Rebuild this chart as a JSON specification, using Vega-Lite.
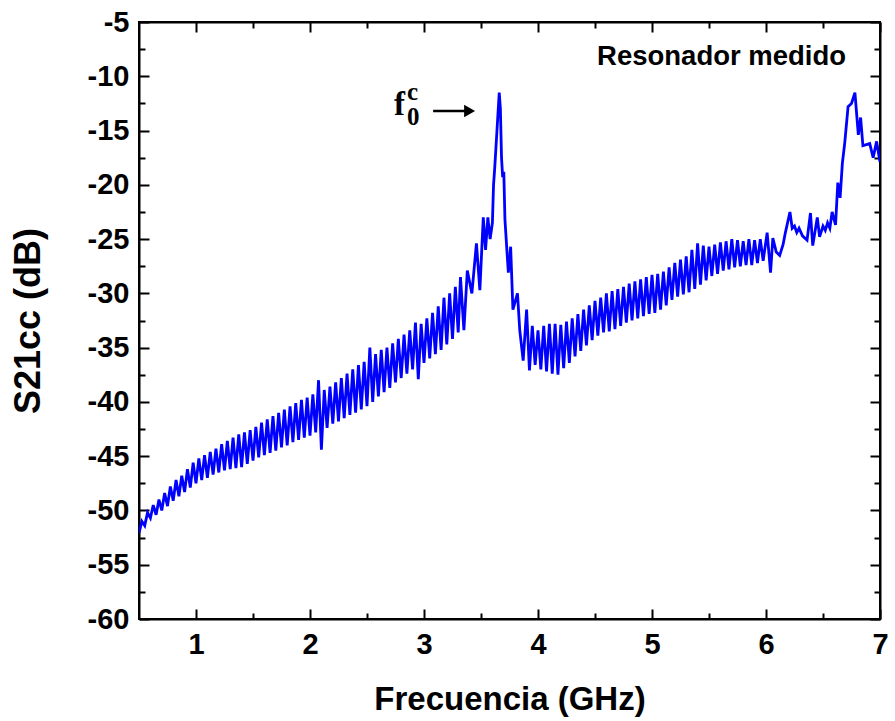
{
  "$schema": "https://vega.github.io/schema/vega-lite/v6.json",
  "autosize": {"type": "none"},
  "width": 741,
  "height": 597,
  "padding": {"left": 139, "top": 22, "right": 15, "bottom": 102},
  "background": "white",
  "config": {
    "view": {"stroke": "black", "strokeWidth": 2},
    "axis": {
      "grid": false,
      "domainColor": "black",
      "domainWidth": 2,
      "tickColor": "black",
      "tickWidth": 2,
      "labelFont": "Liberation Sans",
      "labelFontWeight": "bold",
      "labelFontSize": 29,
      "labelColor": "black",
      "titleFont": "Liberation Sans",
      "titleFontWeight": "bold",
      "titleFontSize": 33,
      "titleColor": "black",
      "labelOverlap": false,
      "labelFlush": false,
      "labelBound": false
    }
  },
  "datasets": {
    "spectrum": [
      {"f":0.500,"s":-52.1},{"f":0.525,"s":-51.0},{"f":0.550,"s":-51.4},{"f":0.575,"s":-50.2},{"f":0.600,"s":-50.7},
      {"f":0.625,"s":-49.5},{"f":0.650,"s":-50.4},{"f":0.675,"s":-49.0},{"f":0.700,"s":-50.0},{"f":0.725,"s":-48.4},
      {"f":0.750,"s":-49.6},{"f":0.775,"s":-47.8},{"f":0.800,"s":-49.1},{"f":0.825,"s":-47.2},{"f":0.850,"s":-48.7},
      {"f":0.875,"s":-46.8},{"f":0.900,"s":-48.3},{"f":0.925,"s":-46.2},{"f":0.950,"s":-47.9},{"f":0.975,"s":-45.6},
      {"f":1.000,"s":-47.5},{"f":1.025,"s":-45.2},{"f":1.050,"s":-47.2},{"f":1.075,"s":-44.9},{"f":1.100,"s":-47.0},
      {"f":1.125,"s":-44.6},{"f":1.150,"s":-46.7},{"f":1.175,"s":-44.3},{"f":1.200,"s":-46.5},{"f":1.225,"s":-43.9},
      {"f":1.250,"s":-46.3},{"f":1.275,"s":-43.6},{"f":1.300,"s":-46.2},{"f":1.325,"s":-43.3},{"f":1.350,"s":-46.1},
      {"f":1.375,"s":-43.0},{"f":1.400,"s":-46.0},{"f":1.425,"s":-42.8},{"f":1.450,"s":-45.7},{"f":1.475,"s":-42.6},
      {"f":1.500,"s":-45.4},{"f":1.525,"s":-42.3},{"f":1.550,"s":-45.1},{"f":1.575,"s":-41.9},{"f":1.600,"s":-44.9},
      {"f":1.625,"s":-41.6},{"f":1.650,"s":-44.7},{"f":1.675,"s":-41.3},{"f":1.700,"s":-44.5},{"f":1.725,"s":-41.0},
      {"f":1.750,"s":-44.2},{"f":1.775,"s":-40.7},{"f":1.800,"s":-44.0},{"f":1.825,"s":-40.4},{"f":1.850,"s":-43.7},
      {"f":1.875,"s":-40.1},{"f":1.900,"s":-43.5},{"f":1.925,"s":-39.8},{"f":1.950,"s":-43.3},{"f":1.975,"s":-39.6},
      {"f":2.000,"s":-43.1},{"f":2.025,"s":-39.3},{"f":2.050,"s":-42.8},{"f":2.075,"s":-38.0},{"f":2.100,"s":-44.4},
      {"f":2.125,"s":-38.9},{"f":2.150,"s":-42.4},{"f":2.175,"s":-38.6},{"f":2.200,"s":-42.0},{"f":2.225,"s":-38.2},
      {"f":2.250,"s":-41.8},{"f":2.275,"s":-37.8},{"f":2.300,"s":-41.5},{"f":2.325,"s":-37.4},{"f":2.350,"s":-41.2},
      {"f":2.375,"s":-37.0},{"f":2.400,"s":-41.0},{"f":2.425,"s":-36.6},{"f":2.450,"s":-40.7},{"f":2.475,"s":-36.3},
      {"f":2.500,"s":-40.4},{"f":2.525,"s":-35.0},{"f":2.550,"s":-40.0},{"f":2.575,"s":-35.6},{"f":2.600,"s":-39.5},
      {"f":2.625,"s":-35.2},{"f":2.650,"s":-39.1},{"f":2.675,"s":-35.0},{"f":2.700,"s":-38.7},{"f":2.725,"s":-34.6},
      {"f":2.750,"s":-38.2},{"f":2.775,"s":-34.2},{"f":2.800,"s":-37.8},{"f":2.825,"s":-33.8},{"f":2.850,"s":-37.4},
      {"f":2.875,"s":-33.4},{"f":2.900,"s":-37.0},{"f":2.925,"s":-32.7},{"f":2.950,"s":-37.9},{"f":2.975,"s":-32.8},
      {"f":3.000,"s":-36.4},{"f":3.025,"s":-32.3},{"f":3.050,"s":-36.0},{"f":3.075,"s":-31.8},{"f":3.100,"s":-35.6},
      {"f":3.125,"s":-31.2},{"f":3.150,"s":-35.2},{"f":3.175,"s":-30.4},{"f":3.200,"s":-34.7},{"f":3.225,"s":-30.0},
      {"f":3.250,"s":-34.2},{"f":3.275,"s":-29.4},{"f":3.300,"s":-33.6},{"f":3.320,"s":-28.5},{"f":3.350,"s":-33.4},
      {"f":3.38,"s":-27.9},{"f":3.42,"s":-30.0},{"f":3.46,"s":-25.4},{"f":3.49,"s":-29.7},{"f":3.52,"s":-23.0},
      {"f":3.54,"s":-26.0},{"f":3.56,"s":-23.0},{"f":3.58,"s":-25.0},{"f":3.60,"s":-23.5},{"f":3.61,"s":-20.0},
      {"f":3.62,"s":-18.5},{"f":3.64,"s":-15.0},{"f":3.66,"s":-11.5},{"f":3.67,"s":-13.0},{"f":3.68,"s":-17.5},
      {"f":3.69,"s":-19.3},{"f":3.70,"s":-18.8},{"f":3.71,"s":-23.2},{"f":3.73,"s":-26.5},{"f":3.74,"s":-28.1},
      {"f":3.76,"s":-25.7},{"f":3.78,"s":-31.5},{"f":3.82,"s":-30.0},{"f":3.84,"s":-33.4},{"f":3.87,"s":-36.2},
      {"f":3.900,"s":-31.5},{"f":3.925,"s":-37.1},{"f":3.950,"s":-33.0},{"f":3.975,"s":-36.6},{"f":4.000,"s":-33.4},
      {"f":4.025,"s":-37.0},{"f":4.050,"s":-33.0},{"f":4.075,"s":-37.2},{"f":4.100,"s":-32.8},{"f":4.125,"s":-37.4},
      {"f":4.150,"s":-32.8},{"f":4.175,"s":-37.5},{"f":4.200,"s":-32.9},{"f":4.225,"s":-36.9},{"f":4.250,"s":-32.6},
      {"f":4.275,"s":-36.4},{"f":4.300,"s":-32.3},{"f":4.325,"s":-35.8},{"f":4.350,"s":-31.9},{"f":4.375,"s":-35.3},
      {"f":4.400,"s":-31.5},{"f":4.425,"s":-34.8},{"f":4.450,"s":-31.1},{"f":4.475,"s":-34.3},{"f":4.500,"s":-30.7},
      {"f":4.525,"s":-33.9},{"f":4.550,"s":-30.4},{"f":4.575,"s":-33.6},{"f":4.600,"s":-30.0},{"f":4.625,"s":-33.5},
      {"f":4.650,"s":-29.8},{"f":4.675,"s":-33.3},{"f":4.700,"s":-29.6},{"f":4.725,"s":-33.0},{"f":4.750,"s":-29.4},
      {"f":4.775,"s":-32.7},{"f":4.800,"s":-29.1},{"f":4.825,"s":-32.5},{"f":4.850,"s":-28.9},{"f":4.875,"s":-32.3},
      {"f":4.900,"s":-28.7},{"f":4.925,"s":-32.1},{"f":4.950,"s":-28.5},{"f":4.975,"s":-31.9},{"f":5.000,"s":-28.3},
      {"f":5.025,"s":-31.8},{"f":5.050,"s":-28.2},{"f":5.075,"s":-31.5},{"f":5.100,"s":-28.0},{"f":5.125,"s":-31.1},
      {"f":5.150,"s":-27.6},{"f":5.175,"s":-30.6},{"f":5.200,"s":-27.2},{"f":5.225,"s":-30.3},{"f":5.250,"s":-26.9},
      {"f":5.275,"s":-30.1},{"f":5.300,"s":-26.6},{"f":5.325,"s":-29.9},{"f":5.350,"s":-26.0},{"f":5.375,"s":-29.6},
      {"f":5.400,"s":-25.4},{"f":5.425,"s":-29.2},{"f":5.450,"s":-25.6},{"f":5.475,"s":-28.8},{"f":5.500,"s":-25.7},
      {"f":5.525,"s":-28.4},{"f":5.550,"s":-25.5},{"f":5.575,"s":-28.2},{"f":5.600,"s":-25.3},{"f":5.625,"s":-27.9},
      {"f":5.650,"s":-25.2},{"f":5.675,"s":-27.8},{"f":5.700,"s":-25.0},{"f":5.725,"s":-27.6},{"f":5.750,"s":-25.1},
      {"f":5.775,"s":-27.5},{"f":5.800,"s":-25.2},{"f":5.825,"s":-27.4},{"f":5.850,"s":-25.0},{"f":5.875,"s":-27.4},
      {"f":5.900,"s":-25.1},{"f":5.925,"s":-27.2},{"f":5.950,"s":-25.0},{"f":5.975,"s":-27.0},{"f":6.010,"s":-24.4},
      {"f":6.04,"s":-28.1},{"f":6.06,"s":-24.9},{"f":6.09,"s":-26.2},{"f":6.12,"s":-26.5},{"f":6.15,"s":-25.5},
      {"f":6.17,"s":-24.4},{"f":6.21,"s":-22.5},{"f":6.23,"s":-24.0},{"f":6.25,"s":-23.8},{"f":6.27,"s":-24.4},
      {"f":6.29,"s":-24.0},{"f":6.32,"s":-24.7},{"f":6.36,"s":-25.1},{"f":6.39,"s":-22.6},{"f":6.41,"s":-25.6},
      {"f":6.45,"s":-23.0},{"f":6.47,"s":-24.8},{"f":6.50,"s":-23.8},{"f":6.52,"s":-24.2},{"f":6.54,"s":-23.5},
      {"f":6.56,"s":-24.0},{"f":6.58,"s":-22.5},{"f":6.61,"s":-23.7},{"f":6.63,"s":-19.8},{"f":6.65,"s":-21.2},
      {"f":6.67,"s":-18.0},{"f":6.69,"s":-16.2},{"f":6.72,"s":-12.8},{"f":6.75,"s":-12.5},{"f":6.78,"s":-11.5},
      {"f":6.81,"s":-15.4},{"f":6.83,"s":-13.8},{"f":6.85,"s":-16.4},{"f":6.88,"s":-16.3},{"f":6.91,"s":-16.2},
      {"f":6.94,"s":-17.5},{"f":6.97,"s":-16.0},{"f":7.00,"s":-17.9}
    ],
    "label": [{"f": 4.518, "s": -8.96, "t": "Resonador medido"}],
    "fmain": [{"f": 2.737, "s": -13.57, "t": "f"}],
    "fsub": [{"f": 2.851, "s": -14.49, "t": "0"}],
    "fsup": [{"f": 2.851, "s": -12.19, "t": "c"}],
    "arrow": [{"f": 3.08, "f2": 3.38, "s": -13.2}],
    "head": [{"f": 3.40, "s": -13.2}]
  },
  "layer": [
    {
      "data": {"name": "spectrum"},
      "mark": {"type": "line", "color": "#0000ff", "strokeWidth": 2.8, "clip": true},
      "encoding": {
        "x": {
          "field": "f", "type": "quantitative",
          "scale": {"domain": [0.5, 7], "nice": false, "zero": false},
          "axis": {
            "orient": "bottom",
            "title": "Frecuencia (GHz)",
            "values": [1, 1.5, 2, 2.5, 3, 3.5, 4, 4.5, 5, 5.5, 6, 6.5, 7],
            "tickSize": {"condition": {"test": "datum.value % 1 === 0", "value": -10}, "value": -6},
            "labelExpr": "datum.value % 1 === 0 ? '' + datum.value : ''",
            "labelPadding": 21,
            "titlePadding": 20
          }
        },
        "y": {
          "field": "s", "type": "quantitative",
          "scale": {"domain": [-60, -5], "nice": false, "zero": false},
          "axis": {
            "orient": "left",
            "title": "S21cc (dB)",
            "titleFontSize": 36,
            "values": [-60, -57.5, -55, -52.5, -50, -47.5, -45, -42.5, -40, -37.5, -35, -32.5, -30, -27.5, -25, -22.5, -20, -17.5, -15, -12.5, -10, -7.5, -5],
            "tickSize": {"condition": {"test": "datum.value % 5 === 0", "value": -10}, "value": -6},
            "labelExpr": "datum.value % 5 === 0 ? '' + datum.value : ''",
            "labelPadding": 20,
            "titlePadding": 40
          }
        }
      }
    },
    {
      "data": {"name": "label"},
      "mark": {"type": "text", "align": "left", "baseline": "alphabetic", "font": "Liberation Sans", "fontWeight": "bold", "fontSize": 27.5, "color": "black"},
      "encoding": {
        "x": {
          "field": "f", "type": "quantitative",
          "axis": {
            "orient": "top", "title": null, "labels": false,
            "values": [1, 1.5, 2, 2.5, 3, 3.5, 4, 4.5, 5, 5.5, 6, 6.5, 7],
            "tickSize": {"condition": {"test": "datum.value % 1 === 0", "value": -10}, "value": -6}
          }
        },
        "y": {
          "field": "s", "type": "quantitative",
          "axis": {
            "orient": "right", "title": null, "labels": false,
            "values": [-60, -57.5, -55, -52.5, -50, -47.5, -45, -42.5, -40, -37.5, -35, -32.5, -30, -27.5, -25, -22.5, -20, -17.5, -15, -12.5, -10, -7.5, -5],
            "tickSize": {"condition": {"test": "datum.value % 5 === 0", "value": -10}, "value": -6}
          }
        },
        "text": {"field": "t"}
      }
    },
    {
      "data": {"name": "fmain"},
      "mark": {"type": "text", "align": "left", "baseline": "alphabetic", "font": "Liberation Serif", "fontWeight": "bold", "fontSize": 33, "color": "black"},
      "encoding": {
        "x": {"field": "f", "type": "quantitative", "axis": null},
        "y": {"field": "s", "type": "quantitative", "axis": null},
        "text": {"field": "t"}
      }
    },
    {
      "data": {"name": "fsub"},
      "mark": {"type": "text", "align": "left", "baseline": "alphabetic", "font": "Liberation Serif", "fontWeight": "bold", "fontSize": 25, "color": "black"},
      "encoding": {
        "x": {"field": "f", "type": "quantitative", "axis": null},
        "y": {"field": "s", "type": "quantitative", "axis": null},
        "text": {"field": "t"}
      }
    },
    {
      "data": {"name": "fsup"},
      "mark": {"type": "text", "align": "left", "baseline": "alphabetic", "font": "Liberation Serif", "fontWeight": "bold", "fontSize": 25, "color": "black"},
      "encoding": {
        "x": {"field": "f", "type": "quantitative", "axis": null},
        "y": {"field": "s", "type": "quantitative", "axis": null},
        "text": {"field": "t"}
      }
    },
    {
      "data": {"name": "arrow"},
      "mark": {"type": "rule", "color": "black", "strokeWidth": 2.5},
      "encoding": {
        "x": {"field": "f", "type": "quantitative", "axis": null},
        "x2": {"field": "f2"},
        "y": {"field": "s", "type": "quantitative", "axis": null}
      }
    },
    {
      "data": {"name": "head"},
      "mark": {"type": "point", "shape": "triangle-right", "filled": true, "color": "black", "size": 160, "opacity": 1},
      "encoding": {
        "x": {"field": "f", "type": "quantitative", "axis": null},
        "y": {"field": "s", "type": "quantitative", "axis": null}
      }
    }
  ],
  "resolve": {"axis": {"x": "independent", "y": "independent"}}
}
